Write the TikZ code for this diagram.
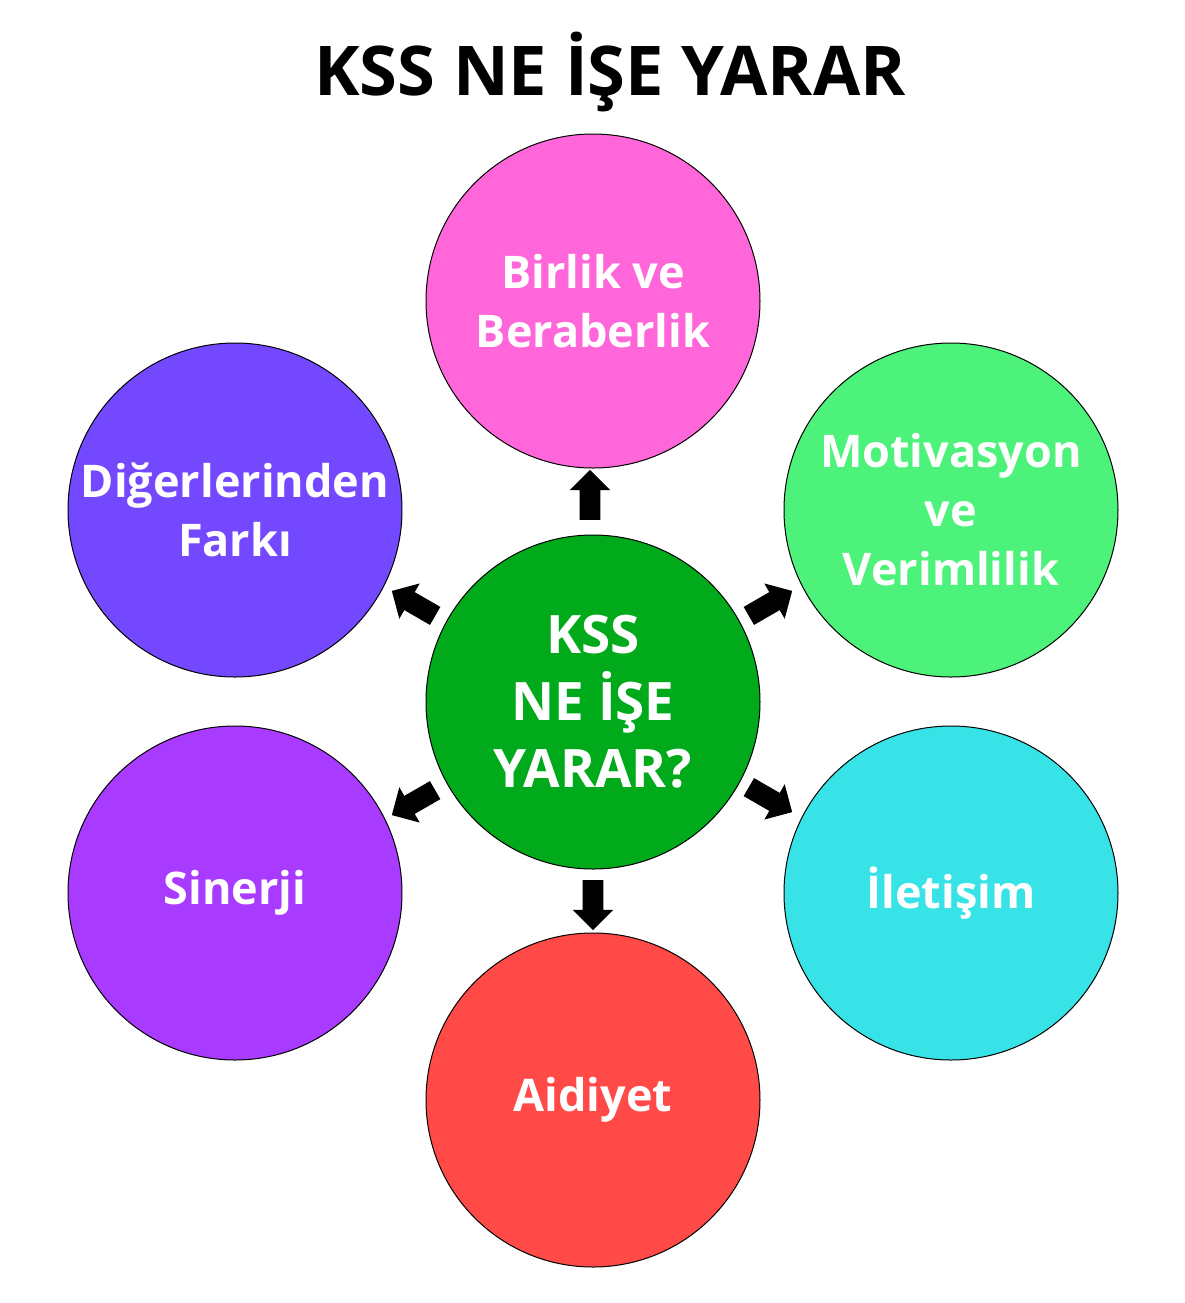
\documentclass[tikz,border=0pt]{standalone}
\usepackage{fontspec}
\setmainfont{Open Sans}
\usetikzlibrary{shapes.arrows}
\definecolor{cpink}{HTML}{FF66D9}
\definecolor{cblue}{HTML}{7348FF}
\definecolor{cgreen}{HTML}{4CF27A}
\definecolor{cviolet}{HTML}{A93AFF}
\definecolor{ccyan}{HTML}{38E3E8}
\definecolor{cred}{HTML}{FF4A47}
\definecolor{cdark}{HTML}{00AA1A}
\tikzset{
  bubble/.style={circle, draw=black, line width=0.5pt, minimum size=167pt, inner sep=0pt,
    text=white, font=\bfseries\fontsize{22.5}{29.5}\selectfont, align=center},
  blockarrow/.style={single arrow, fill=black, draw=none, minimum height=25pt, minimum width=20pt,
    single arrow head extend=5pt, single arrow tip angle=90, inner xsep=0pt, inner ysep=5pt}
}
\begin{document}
\begin{tikzpicture}[x=0.5pt,y=-0.5pt]
\path[use as bounding box] (0,0) rectangle (1185,1303);
\node[font=\bfseries\fontsize{34.3}{40}\selectfont] (title) at (610,72) {KSS NE İŞE YARAR};
\node[bubble, fill=cpink] (top) at (593,301) {Birlik ve\\Beraberlik};
\node[bubble, fill=cblue] (ul) at (235,510) {Diğerlerinden\\Farkı};
\node[bubble, fill=cgreen] (ur) at (951,510) {Motivasyon\\ve\\Verimlilik};
\node[bubble, fill=cviolet] (ll) at (235,893) {Sinerji};
\node[bubble, fill=ccyan] (lr) at (951,893) {İletişim};
\node[bubble, fill=cred] (bot) at (593,1100) {Aidiyet};
\node[bubble, fill=cdark, font=\bfseries\fontsize{26.5}{33.5}\selectfont] (c) at (593,702) {KSS\\NE İŞE\\YARAR?};
\node[blockarrow, rotate=90] (a1) at (590,500) {};
\node[blockarrow, rotate=270] (a2) at (593,900) {};
\node[blockarrow, rotate=150] (a3) at (418,606) {};
\node[blockarrow, rotate=30] (a4) at (766,606) {};
\node[blockarrow, rotate=210] (a5) at (418,800) {};
\node[blockarrow, rotate=330] (a6) at (766,797) {};
\end{tikzpicture}
\end{document}
